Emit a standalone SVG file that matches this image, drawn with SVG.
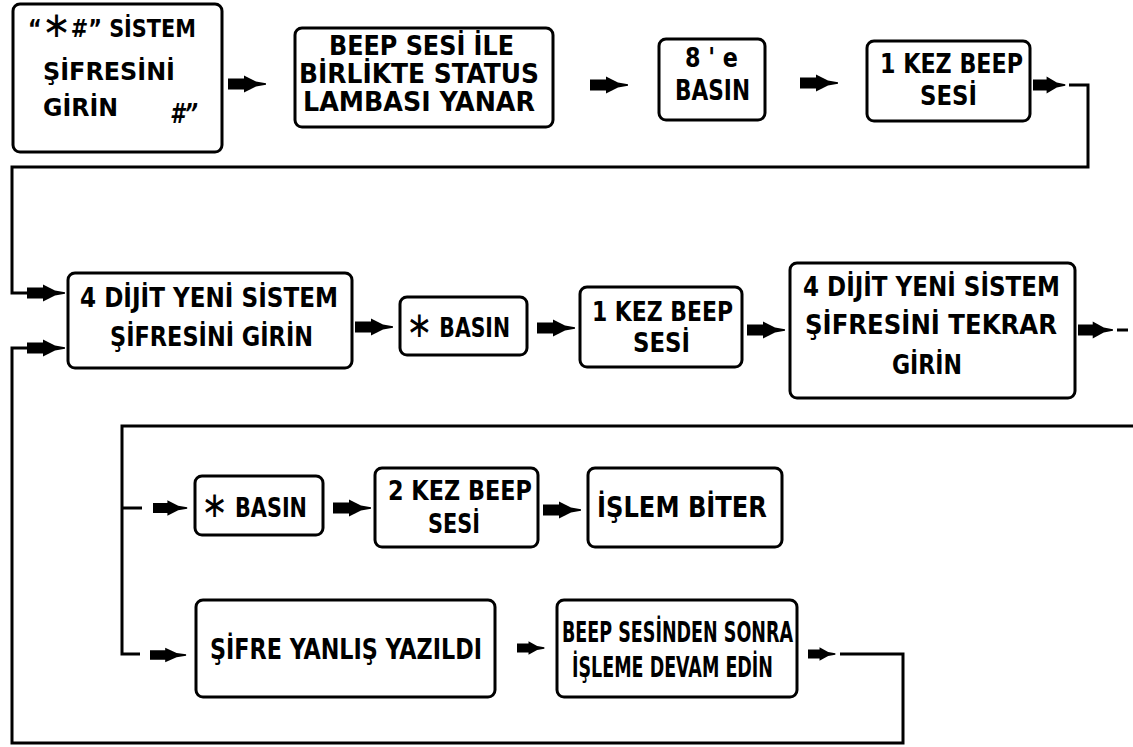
<svg xmlns="http://www.w3.org/2000/svg" xmlns:xlink="http://www.w3.org/1999/xlink" width="1133" height="747" viewBox="0 0 1133 747">
  <style>
    .box { fill: #fff; stroke: #000; stroke-width: 3; }
    .wire { fill: none; stroke: #000; stroke-width: 3; }
    .lbl { font-family: "Liberation Sans Narrow", "DejaVu Sans Condensed", "Liberation Sans", sans-serif; font-weight: bold; fill: #000; font-size: 26px; }
    .big { font-size: 28px; }
    .small { font-size: 24px; }
    .star { font-family: "DejaVu Sans", sans-serif; font-weight: normal; font-size: 36px; }
  </style>
  <defs>
    <!-- block arrow pointing right, tail at 0,0 -->
    <path id="arr" d="M0,-5.5 H16 V-8.5 L28,-2.5 L38,-0.8 V0.8 L28,2.5 L16,8.5 V5.5 H0 Z" fill="#000"/>
  </defs>
  <rect width="1133" height="747" fill="#fff"/>

  <!-- connectors -->
  <g id="connectors">
    <use xlink:href="#arr" transform="translate(228,84)"/>
    <use xlink:href="#arr" transform="translate(590,85)"/>
    <use xlink:href="#arr" transform="translate(800,83)"/>
    <use xlink:href="#arr" transform="translate(1033,85) scale(0.85,1)"/>
    <path class="wire" d="M1069,85 H1088 V167 H12 V293 H27"/>
    <use xlink:href="#arr" transform="translate(27,293)"/>
    <use xlink:href="#arr" transform="translate(27,348)"/>
    <use xlink:href="#arr" transform="translate(355,327)"/>
    <use xlink:href="#arr" transform="translate(537,328)"/>
    <use xlink:href="#arr" transform="translate(747,330)"/>
    <use xlink:href="#arr" transform="translate(1078,330) scale(0.92,1)"/>
    <path class="wire" d="M1117,330 H1128"/>
    <path class="wire" d="M1133,426 H122 V654 H140"/>
    <path class="wire" d="M122,508 H142"/>
    <use xlink:href="#arr" transform="translate(153,508) scale(0.9,0.9)"/>
    <use xlink:href="#arr" transform="translate(333,508)"/>
    <use xlink:href="#arr" transform="translate(543,510)"/>
    <use xlink:href="#arr" transform="translate(150,655) scale(0.95,0.85)"/>
    <use xlink:href="#arr" transform="translate(517,648) scale(0.72,0.8)"/>
    <use xlink:href="#arr" transform="translate(808,654) scale(0.72,0.8)"/>
    <path class="wire" d="M840,654 H903 V743 H12 V348 H27"/>
  </g>

  <g id="n1">
    <rect class="box" x="13" y="4" width="209" height="148" rx="7"/>
    <text class="lbl small" x="28" y="37" textLength="168" lengthAdjust="spacingAndGlyphs">“<tspan class="star" font-size="30">∗</tspan>#” SİSTEM</text>
    <text class="lbl small" x="43" y="80" textLength="132" lengthAdjust="spacingAndGlyphs">ŞİFRESİNİ</text>
    <text class="lbl small" x="43" y="116" textLength="75" lengthAdjust="spacingAndGlyphs">GİRİN</text>
    <text class="lbl" x="170" y="123" font-size="16" font-style="italic" textLength="28" lengthAdjust="spacingAndGlyphs">#”</text>
  </g>
  <g id="n2">
    <rect class="box" x="295" y="28" width="258" height="99" rx="7"/>
    <text class="lbl" x="329" y="55" textLength="185" lengthAdjust="spacingAndGlyphs">BEEP SESİ İLE</text>
    <text class="lbl" x="299" y="83" textLength="240" lengthAdjust="spacingAndGlyphs">BİRLİKTE STATUS</text>
    <text class="lbl" x="303" y="111" textLength="232" lengthAdjust="spacingAndGlyphs">LAMBASI  YANAR</text>
  </g>
  <g id="n3">
    <rect class="box" x="659" y="39" width="106" height="81" rx="7"/>
    <text class="lbl" x="685" y="67" textLength="53" lengthAdjust="spacingAndGlyphs">8 ' e</text>
    <text class="lbl big" x="675" y="100" textLength="75" lengthAdjust="spacingAndGlyphs">BASIN</text>
  </g>
  <g id="n4">
    <rect class="box" x="867" y="41" width="163" height="80" rx="7"/>
    <text class="lbl" x="880" y="73" textLength="143" lengthAdjust="spacingAndGlyphs">1 KEZ BEEP</text>
    <text class="lbl" x="920" y="105" textLength="57" lengthAdjust="spacingAndGlyphs">SESİ</text>
  </g>
  <g id="n5">
    <rect class="box" x="68" y="273" width="284" height="95" rx="7"/>
    <text class="lbl" x="80" y="307" textLength="258" lengthAdjust="spacingAndGlyphs">4 DİJİT YENİ SİSTEM</text>
    <text class="lbl" x="110" y="346" textLength="203" lengthAdjust="spacingAndGlyphs">ŞİFRESİNİ GİRİN</text>
  </g>
  <g id="n6">
    <rect class="box" x="400" y="297" width="127" height="58" rx="7"/>
    <text class="lbl" x="406" y="337" textLength="104" lengthAdjust="spacingAndGlyphs"><tspan class="star">∗</tspan> BASIN</text>
  </g>
  <g id="n7">
    <rect class="box" x="580" y="287" width="162" height="80" rx="7"/>
    <text class="lbl" x="592" y="321" textLength="141" lengthAdjust="spacingAndGlyphs">1 KEZ BEEP</text>
    <text class="lbl" x="633" y="352" textLength="57" lengthAdjust="spacingAndGlyphs">SESİ</text>
  </g>
  <g id="n8">
    <rect class="box" x="790" y="263" width="285" height="135" rx="7"/>
    <text class="lbl" x="803" y="296" textLength="257" lengthAdjust="spacingAndGlyphs">4 DİJİT YENİ SİSTEM</text>
    <text class="lbl" x="805" y="334" textLength="252" lengthAdjust="spacingAndGlyphs">ŞİFRESİNİ  TEKRAR</text>
    <text class="lbl" x="892" y="374" textLength="70" lengthAdjust="spacingAndGlyphs">GİRİN</text>
  </g>
  <g id="n9">
    <rect class="box" x="195" y="476" width="128" height="59" rx="7"/>
    <text class="lbl" x="201" y="517" textLength="106" lengthAdjust="spacingAndGlyphs"><tspan class="star">∗</tspan> BASIN</text>
  </g>
  <g id="n10">
    <rect class="box" x="375" y="468" width="163" height="79" rx="7"/>
    <text class="lbl" x="388" y="500" textLength="144" lengthAdjust="spacingAndGlyphs">2 KEZ BEEP</text>
    <text class="lbl" x="428" y="533" textLength="52" lengthAdjust="spacingAndGlyphs">SESİ</text>
  </g>
  <g id="n11">
    <rect class="box" x="588" y="468" width="194" height="79" rx="7"/>
    <text class="lbl big" x="597" y="517" textLength="170" lengthAdjust="spacingAndGlyphs">İŞLEM BİTER</text>
  </g>
  <g id="n12">
    <rect class="box" x="196" y="600" width="299" height="97" rx="7"/>
    <text class="lbl big" x="210" y="659" textLength="272" lengthAdjust="spacingAndGlyphs">ŞİFRE YANLIŞ YAZILDI</text>
  </g>
  <g id="n13">
    <rect class="box" x="557" y="600" width="240" height="97" rx="7"/>
    <text class="lbl big" x="562" y="642" textLength="231" lengthAdjust="spacingAndGlyphs">BEEP SESİNDEN SONRA</text>
    <text class="lbl big" x="572" y="677" textLength="201" lengthAdjust="spacingAndGlyphs">İŞLEME DEVAM EDİN</text>
  </g>
</svg>
